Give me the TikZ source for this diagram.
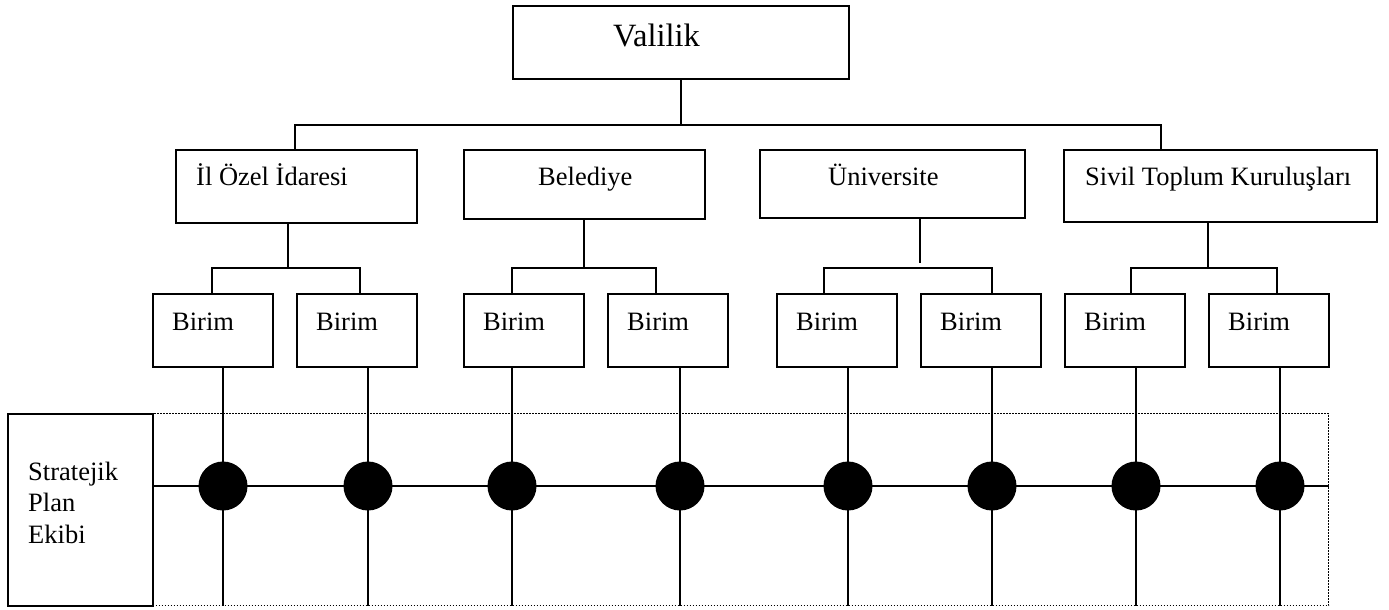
\documentclass[tikz,border=0pt]{standalone}
\usepackage{fontspec}
\setmainfont{Liberation Serif}
\begin{document}
\begin{tikzpicture}[x=1pt,y=-1pt,
  box/.style={draw, line width=2pt, rectangle, inner sep=0pt, anchor=north west},
  lbl/.style={inner sep=0pt, anchor=base west, font=\fontsize{26.5}{31}\selectfont},
  link/.style={line width=2pt},
  dotframe/.style={draw, line width=1.3pt, dash pattern=on 1.4pt off 1.6pt, rectangle,
    inner sep=0pt, anchor=north west},
  knot/.style={circle, fill=black, minimum size=49pt, inner sep=0pt}]
\useasboundingbox (0,0) rectangle (1389,610);

% top level
\node[box, minimum width=336, minimum height=73] (vali) at (512,5) {};
\node[lbl, font=\fontsize{32.5}{36}\selectfont] (valiT) at (613,47) {Valilik};

% second level
\node[box, minimum width=241, minimum height=73] (ilozel) at (175,149) {};
\node[lbl] (ilozelT) at (196,185) {İl Özel İdaresi};
\node[box, minimum width=241, minimum height=69] (beled) at (463,149) {};
\node[lbl] (beledT) at (538,185) {Belediye};
\node[box, minimum width=265, minimum height=68] (univ) at (759,149) {};
\node[lbl] (univT) at (828,185) {Üniversite};
\node[box, minimum width=313, minimum height=72] (sivil) at (1063,149) {};
\node[lbl] (sivilT) at (1085,185) {Sivil Toplum Kuruluşları};

% units
\foreach \i/\x in {1/152,2/296,3/463,4/607,5/776,6/920,7/1064,8/1208}{
  \node[box, minimum width=120, minimum height=73] (b\i) at (\x,293) {};
  \node[lbl] (b\i T) at (\x+20,330) {Birim};
}

% bus under the governorship
\coordinate (busL) at (295,125);
\coordinate (busR) at (1161,125);
\draw[link] (vali.south) -- (vali.south |- busL);
\draw[link] (ilozel.north -| busL) -- (busL) -- (busR) -- (sivil.north -| busR);

% branches to the units
\coordinate (k1) at (288,268);
\coordinate (t1) at (212,268); \coordinate (t2) at (360,268);
\draw[link] (ilozel.south -| k1) -- (k1);
\draw[link] (b1.north -| t1) -- (t1) -- (t2) -- (b2.north -| t2);

\coordinate (k2) at (584,268);
\coordinate (t3) at (512,268); \coordinate (t4) at (656,268);
\draw[link] (beled.south -| k2) -- (k2);
\draw[link] (b3.north -| t3) -- (t3) -- (t4) -- (b4.north -| t4);

\coordinate (k3) at (920,263);
\coordinate (t5) at (824,268); \coordinate (t6) at (992,268);
\draw[link] (univ.south -| k3) -- (k3);
\draw[link] (b5.north -| t5) -- (t5) -- (t6) -- (b6.north -| t6);

\coordinate (k4) at (1208,268);
\coordinate (t7) at (1131,268); \coordinate (t8) at (1277,268);
\draw[link] (sivil.south -| k4) -- (k4);
\draw[link] (b7.north -| t7) -- (t7) -- (t8) -- (b8.north -| t8);

% strategic plan team
\node[box, minimum width=145, minimum height=192] (ekip) at (7,413) {};
\node[inner sep=0pt, anchor=north west, align=left,
      font=\fontsize{26.5}{31.5}\selectfont] (ekipT) at (28,461.5) {Stratejik\\Plan\\Ekibi};
\node[dotframe, minimum width=1176, minimum height=192] (team) at (152,413) {};

\foreach \i/\x in {1/223,2/368,3/512,4/680,5/848,6/992,7/1136,8/1280}{
  \coordinate (c\i) at (\x,486);
}
\draw[link] (ekip.east |- c1) -- (team.east |- c1);
\foreach \i in {1,...,8}{
  \draw[link] (c\i |- b\i.south) -- (c\i |- team.south);
  \node[knot] (d\i) at (c\i) {};
}
\end{tikzpicture}
\end{document}
